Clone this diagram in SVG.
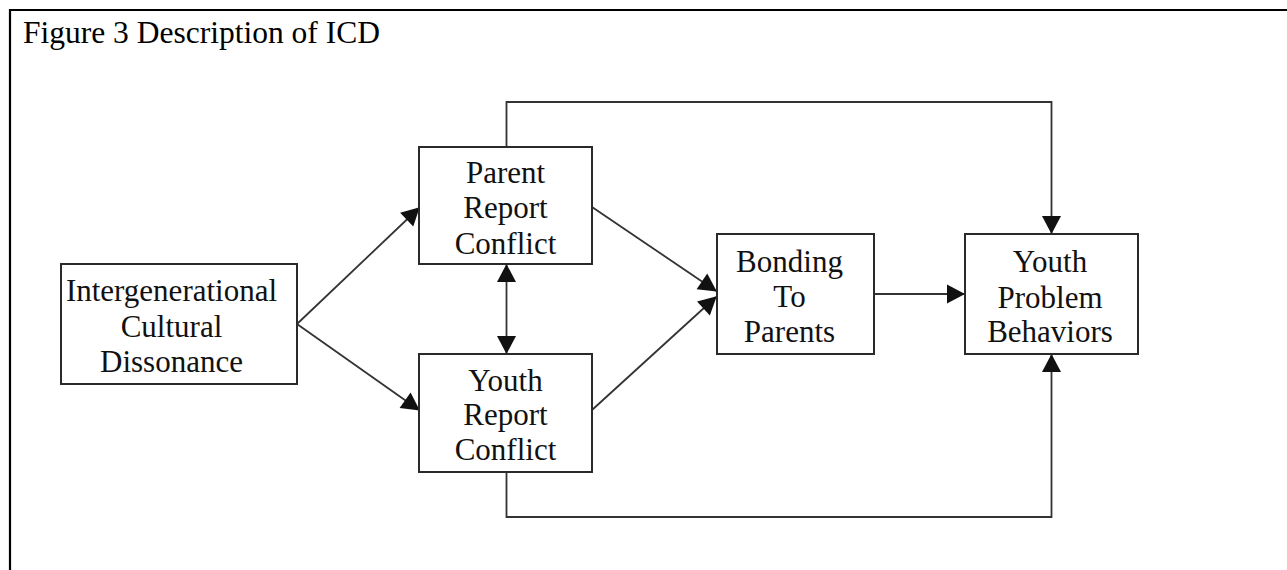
<svg xmlns="http://www.w3.org/2000/svg" width="1287" height="570" viewBox="0 0 1287 570">
<style>
  .frame { fill: none; stroke: #000; stroke-width: 2.2; }
  .box { fill: #fff; stroke: #2a2a2a; stroke-width: 2; }
  .lbl { font-family: "Liberation Serif", "Times New Roman", serif; font-size: 31px; fill: #111; text-anchor: middle; }
  .title { font-family: "Liberation Serif", "Times New Roman", serif; font-size: 31.5px; fill: #000; }
  .conn { fill: none; stroke: #333; stroke-width: 1.8; }
</style>
<defs>
  <marker id="arr" markerUnits="userSpaceOnUse" markerWidth="20" markerHeight="20" viewBox="0 0 18 20" refX="17" refY="10" orient="auto-start-reverse">
    <path d="M0,0.5 L18,10 L0,19.5 Z" fill="#111"/>
  </marker>
</defs>
<rect width="1287" height="570" fill="#fff"/>
<path class="frame" d="M10,570 L10,10 L1287,10"/>
<text class="title" x="23" y="43">Figure 3 Description of ICD</text>

<g id="connectors">
  <line class="conn" x1="297" y1="324" x2="419" y2="208" marker-end="url(#arr)"/>
  <line class="conn" x1="297" y1="324" x2="419" y2="410" marker-end="url(#arr)"/>
  <line class="conn" x1="506.5" y1="265" x2="506.5" y2="353" marker-start="url(#arr)" marker-end="url(#arr)"/>
  <line class="conn" x1="592" y1="207" x2="716" y2="291" marker-end="url(#arr)"/>
  <line class="conn" x1="592" y1="410" x2="716" y2="297" marker-end="url(#arr)"/>
  <line class="conn" x1="872" y1="294" x2="964" y2="294" marker-end="url(#arr)"/>
  <polyline class="conn" points="506.5,147 506.5,102 1051.5,102 1051.5,233" marker-end="url(#arr)"/>
  <polyline class="conn" points="506.5,472 506.5,517 1051.5,517 1051.5,355" marker-end="url(#arr)"/>
</g>

<g id="icd">
  <rect class="box" x="61" y="264" width="236" height="120"/>
  <text class="lbl" x="171.5" y="301">Intergenerational</text>
  <text class="lbl" x="171.5" y="337">Cultural</text>
  <text class="lbl" x="171.5" y="372">Dissonance</text>
</g>
<g id="parent-report">
  <rect class="box" x="419" y="147" width="173" height="117"/>
  <text class="lbl" x="505.5" y="183">Parent</text>
  <text class="lbl" x="505.5" y="218">Report</text>
  <text class="lbl" x="505.5" y="254">Conflict</text>
</g>
<g id="youth-report">
  <rect class="box" x="419" y="354" width="173" height="118"/>
  <text class="lbl" x="505.5" y="391">Youth</text>
  <text class="lbl" x="505.5" y="425">Report</text>
  <text class="lbl" x="505.5" y="460">Conflict</text>
</g>
<g id="bonding">
  <rect class="box" x="717" y="234" width="157" height="120"/>
  <text class="lbl" x="789.5" y="272">Bonding</text>
  <text class="lbl" x="789.5" y="307">To</text>
  <text class="lbl" x="789.5" y="342">Parents</text>
</g>
<g id="youth-problem">
  <rect class="box" x="965" y="234" width="173" height="120"/>
  <text class="lbl" x="1050" y="272">Youth</text>
  <text class="lbl" x="1050" y="308">Problem</text>
  <text class="lbl" x="1050" y="342">Behaviors</text>
</g>
</svg>
